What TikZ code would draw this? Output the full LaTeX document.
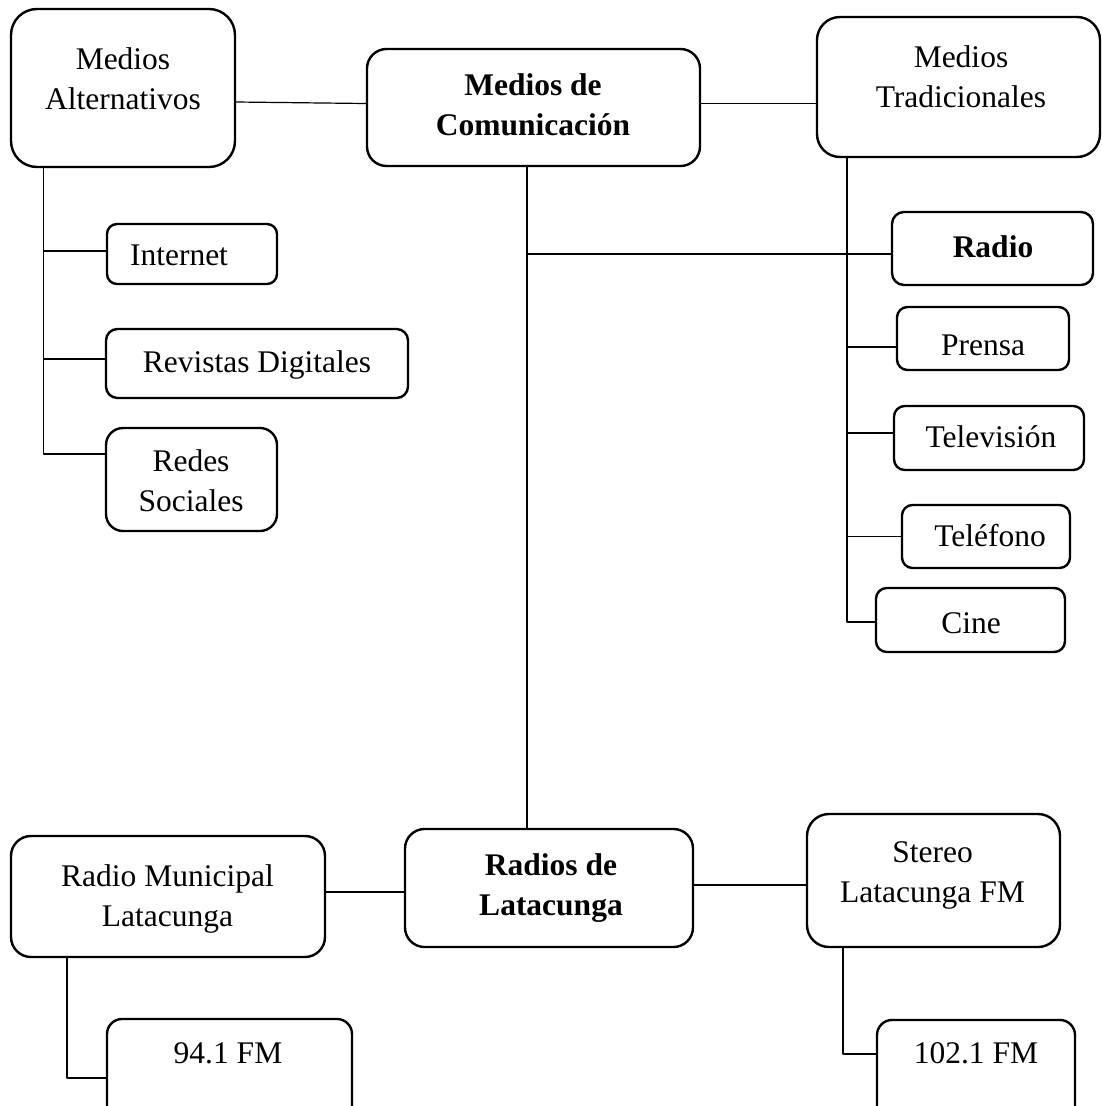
\documentclass[tikz,border=0pt]{standalone}
\usepackage{fontspec}
\setmainfont{Liberation Serif}
\begin{document}
\begin{tikzpicture}[x=1pt, y=-1pt, line join=round, font=\fontsize{31.5}{40}\selectfont,
	box/.style={draw, line width=2.4pt, rounded corners=#1, inner sep=0pt},
	lbl/.style={align=center, inner sep=0pt},
	con/.style={line width=1.2pt}]
	\useasboundingbox (0,0) rectangle (1102,1106);
	\clip (0,0) rectangle (1102,1106);
	% boxes: name/x/y/width/height/radius
	\foreach \n/\x/\y/\w/\h/\r in {alt/123/88/224/158/26, com/533.5/107.5/333/117/19.5, trad/958.5/87/283/140/23,
		radio/992.5/248.5/201/73/12, prensa/983/338.5/172/63/10.5, tv/989/438/190/64/10.7,
		tel/986/536.5/168/63/10.5, cine/970.5/620/189/64/10.7,
		int/192/254/170/60/10, rev/257/363.5/302/69/11.5, red/191.5/479.5/171/103/17,
		mun/168/896.5/314/121/20, rad/549/888/288/118/19.5, ste/933.5/880.5/253/133/22,
		fa/229.5/1072/245/106/15, fb/976/1072.5/198/105/15}
		\node[box=\r, minimum width=\w, minimum height=\h] (\n) at (\x,\y) {};
	% texts
	\node[lbl] (altT) at (123,79) {Medios\\Alternativos};
	\node[lbl, font=\fontsize{31.5}{40}\bfseries] (comT) at (533,105) {Medios de\\Comunicación};
	\node[lbl] (tradT) at (961,77) {Medios\\Tradicionales};
	\node[lbl, font=\fontsize{31.5}{40}\bfseries] (radioT) at (993,247) {Radio};
	\node[lbl] (prensaT) at (983,345) {Prensa};
	\node[lbl] (tvT) at (991,437) {Televisión};
	\node[lbl] (telT) at (990,536) {Teléfono};
	\node[lbl] (cineT) at (971,623) {Cine};
	\node[lbl] (intT) at (179,255) {Internet};
	\node[lbl] (revT) at (257,365) {Revistas Digitales};
	\node[lbl] (redT) at (191,481) {Redes\\Sociales};
	\node[lbl] (munT) at (167.5,898.5) {Radio Municipal\\Latacunga};
	\node[lbl, font=\fontsize{31.5}{40}\bfseries] (radT) at (551,888.5) {Radios de\\Latacunga};
	\node[lbl] (steT) at (932.5,875.5) {Stereo\\Latacunga FM};
	\node[lbl] (faT) at (228,1053) {94.1 FM};
	\node[lbl] (fbT) at (976,1053) {102.1 FM};
	% trunks
	\coordinate (altV) at ([xshift=-79.5pt]alt.south);
	\coordinate (comV) at ([xshift=-6.5pt]com.south);
	\coordinate (tradV) at ([xshift=-111.5pt]trad.south);
	\coordinate (munV) at ([xshift=-101pt]mun.south);
	\coordinate (steV) at ([xshift=-90.5pt]ste.south);
	% connectors
	\draw[con] ([yshift=-14pt]alt.east) -- ([yshift=4pt]com.west);
	\draw[con] ([yshift=4pt]com.east) -- ([yshift=-16.5pt]trad.west);
	\draw[con] (comV) -- (comV |- rad.north);
	\draw[con] ([yshift=-5.5pt]radio.west) coordinate (rw) -- (comV |- rw);
	\draw[con] (tradV) |- ([yshift=-2pt]cine.west);
	\draw[con] ([yshift=-8.5pt]prensa.west) -- +(-49,0);
	\draw[con] ([yshift=5pt]tv.west) -- +(-46,0);
	\draw[con] (tel.west) -- (tel.west -| tradV);
	\draw[con] (altV) |- ([yshift=25.5pt]red.west);
	\draw[con] ([yshift=3pt]int.west) -- +(-63,0);
	\draw[con] ([yshift=4.5pt]rev.west) -- +(-62,0);
	\draw[con] ([yshift=4.5pt]mun.east) -- ([yshift=-4pt]rad.west);
	\draw[con] ([yshift=3pt]rad.east) -- ([yshift=-4.5pt]ste.west);
	\draw[con] (munV) |- ([yshift=-6pt]fa.west);
	\draw[con] (steV) |- ([yshift=18.5pt]fb.west);
\end{tikzpicture}
\end{document}
